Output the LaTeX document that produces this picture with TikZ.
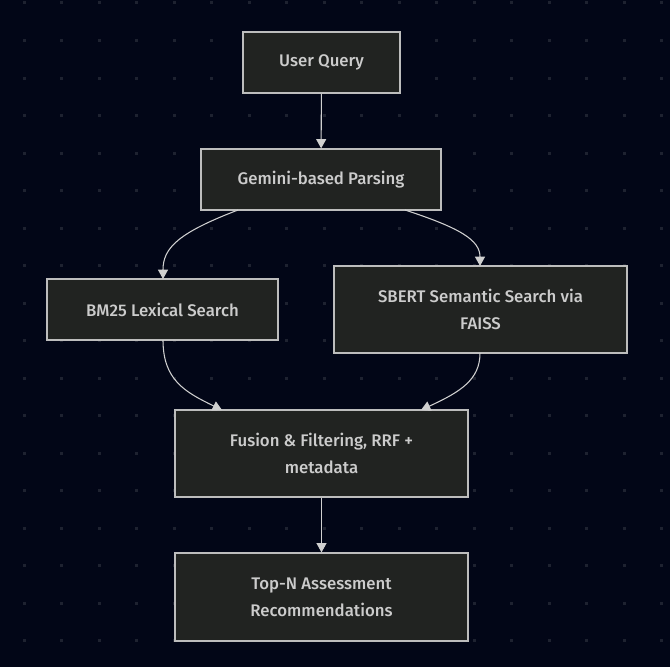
\documentclass[tikz,border=0pt]{standalone}
\usepackage{fontspec}
\setmainfont{Fira Sans}[UprightFont={* Medium}]
\usetikzlibrary{arrows.meta}
\definecolor{bgc}{HTML}{020617}
\definecolor{dotc}{HTML}{1E2230}
\definecolor{nodefill}{HTML}{212321}
\definecolor{nodeline}{HTML}{BDBDBD}
\definecolor{txt}{HTML}{CCCCCC}
\definecolor{edgec}{HTML}{D0D0D0}
\begin{document}
\begin{tikzpicture}[x=0.75pt,y=-0.75pt,
  box/.style={draw=nodeline,fill=nodefill,line width=0.9pt,text=txt,font=\fontsize{12.6}{20.3}\selectfont,align=center,inner sep=0pt,anchor=center},
  conn/.style={draw=edgec,line width=0.8pt,-{Triangle[width=7.5pt,length=7pt]}}]
\fill[bgc] (0,0) rectangle (670,667);
\useasboundingbox (0,0) rectangle (670,667);
\foreach \i in {0,...,17}{\foreach \j in {0,...,17}{
  \fill[dotc] ({24+37.5*\i-1.5},{3+37.5*\j-1.5}) rectangle ++(3,3);}}
\node[box,minimum width=157*0.75pt,minimum height=61*0.75pt] (uq) at (321.5,62.5) {User Query};
\node[box,minimum width=240*0.75pt,minimum height=61*0.75pt] (gp) at (321,179.5) {Gemini-based Parsing};
\node[box,minimum width=231*0.75pt,minimum height=61*0.75pt] (bm) at (162.5,309.5) {BM25 Lexical Search};
\node[box,minimum width=293*0.75pt,minimum height=87*0.75pt] (sb) at (480.5,309.5) {SBERT Semantic Search via\\FAISS};
\node[box,minimum width=293*0.75pt,minimum height=87*0.75pt] (fu) at (321.5,453.5) {Fusion \& Filtering, RRF +\\metadata};
\node[box,minimum width=293*0.75pt,minimum height=88*0.75pt] (tn) at (321.5,597) {Top-N Assessment\\Recommendations};
\coordinate (gpl) at (238,210);
\coordinate (gpr) at (405,210);
\coordinate (bmt) at (163,279);
\coordinate (sbt) at (480,266);
\coordinate (bmb) at (163,340);
\coordinate (sbb) at (480,353);
\coordinate (ful) at (222,410);
\coordinate (fur) at (421,410);
\draw[conn] (uq) -- (gp);
\draw[conn] (gpl) .. controls (178,233) and (163,248) .. (bmt);
\draw[conn] (gpr) .. controls (460,228) and (480,240) .. (sbt);
\draw[conn] (bmb) .. controls (163,380) and (185,392) .. (ful);
\draw[conn] (sbb) .. controls (480,380) and (460,392) .. (fur);
\draw[conn] (fu) -- (tn);
\end{tikzpicture}
\end{document}
